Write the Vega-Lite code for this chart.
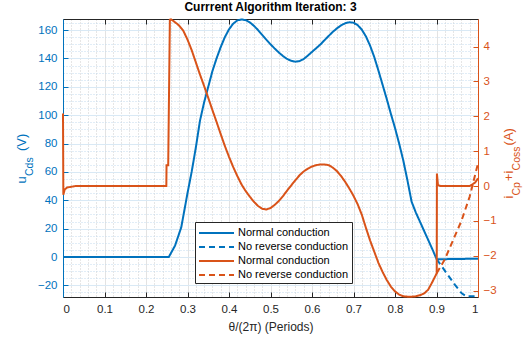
{
  "$schema": "https://vega.github.io/schema/vega-lite/v6.json",
  "width": 415,
  "height": 278,
  "autosize": {"type": "none"},
  "padding": {"left": 63, "top": 19, "right": 46, "bottom": 46},
  "config": {
    "font": "Liberation Sans",
    "view": {"stroke": null},
    "legend": {
      "orient": "none", "legendX": 132, "legendY": 203,
      "strokeColor": "#262626", "fillColor": "#ffffff", "padding": 3,
      "symbolType": "M-1,0H4", "symbolSize": 196, "symbolStrokeWidth": 2, "labelOffset": 24,
      "labelFontSize": 11, "labelColor": "#000000", "labelLimit": 300, "rowPadding": 1, "title": null
    }
  },
  "title": {"text": "Currrent Algorithm Iteration: 3", "fontSize": 12, "fontWeight": "bold", "color": "#000000", "offset": 1, "anchor": "middle"},
  "data": {"values": [
    {"s": "a", "x": 0, "v": 0}, {"s": "a", "x": 0.255, "v": 0}, {"s": "a", "x": 0.27, "v": 8}, {"s": "a", "x": 0.285, "v": 21},
    {"s": "a", "x": 0.3, "v": 45}, {"s": "a", "x": 0.31, "v": 60}, {"s": "a", "x": 0.32, "v": 77}, {"s": "a", "x": 0.33, "v": 96},
    {"s": "a", "x": 0.34, "v": 109}, {"s": "a", "x": 0.35, "v": 120}, {"s": "a", "x": 0.36, "v": 131}, {"s": "a", "x": 0.37, "v": 140},
    {"s": "a", "x": 0.38, "v": 148}, {"s": "a", "x": 0.39, "v": 155}, {"s": "a", "x": 0.4, "v": 160.5}, {"s": "a", "x": 0.41, "v": 164.5},
    {"s": "a", "x": 0.42, "v": 166.8}, {"s": "a", "x": 0.43, "v": 167.5}, {"s": "a", "x": 0.44, "v": 167}, {"s": "a", "x": 0.45, "v": 165.5},
    {"s": "a", "x": 0.46, "v": 163}, {"s": "a", "x": 0.47, "v": 160}, {"s": "a", "x": 0.48, "v": 156.6}, {"s": "a", "x": 0.49, "v": 153.2},
    {"s": "a", "x": 0.5, "v": 150}, {"s": "a", "x": 0.51, "v": 147}, {"s": "a", "x": 0.52, "v": 144.2}, {"s": "a", "x": 0.53, "v": 141.7},
    {"s": "a", "x": 0.54, "v": 139.6}, {"s": "a", "x": 0.55, "v": 138.3}, {"s": "a", "x": 0.56, "v": 137.7}, {"s": "a", "x": 0.57, "v": 138.1},
    {"s": "a", "x": 0.58, "v": 139.6}, {"s": "a", "x": 0.59, "v": 142}, {"s": "a", "x": 0.6, "v": 144.6}, {"s": "a", "x": 0.61, "v": 147.2},
    {"s": "a", "x": 0.62, "v": 149.8}, {"s": "a", "x": 0.63, "v": 152.8}, {"s": "a", "x": 0.64, "v": 155.8}, {"s": "a", "x": 0.65, "v": 158.7},
    {"s": "a", "x": 0.66, "v": 161.2}, {"s": "a", "x": 0.67, "v": 163.3}, {"s": "a", "x": 0.68, "v": 164.8}, {"s": "a", "x": 0.69, "v": 165.5},
    {"s": "a", "x": 0.7, "v": 165.2}, {"s": "a", "x": 0.71, "v": 163.5}, {"s": "a", "x": 0.72, "v": 160.3}, {"s": "a", "x": 0.73, "v": 155.5},
    {"s": "a", "x": 0.74, "v": 149}, {"s": "a", "x": 0.75, "v": 141}, {"s": "a", "x": 0.76, "v": 131.5}, {"s": "a", "x": 0.77, "v": 121.5},
    {"s": "a", "x": 0.78, "v": 111.5}, {"s": "a", "x": 0.79, "v": 101}, {"s": "a", "x": 0.8, "v": 91}, {"s": "a", "x": 0.81, "v": 80},
    {"s": "a", "x": 0.82, "v": 68}, {"s": "a", "x": 0.83, "v": 54}, {"s": "a", "x": 0.84, "v": 39}, {"s": "a", "x": 0.85, "v": 31.5},
    {"s": "a", "x": 0.86, "v": 25}, {"s": "a", "x": 0.87, "v": 18.5}, {"s": "a", "x": 0.88, "v": 12}, {"s": "a", "x": 0.89, "v": 5.5},
    {"s": "a", "x": 0.9005, "v": -1.6}, {"s": "a", "x": 0.95, "v": -1.4}, {"s": "a", "x": 1.0, "v": -1.2},
    {"s": "b", "x": 0.9005, "v": -1.6}, {"s": "b", "x": 0.9245, "v": -11.5}, {"s": "b", "x": 0.9446, "v": -19.7}, {"s": "b", "x": 0.9607, "v": -25.6},
    {"s": "b", "x": 0.972, "v": -27.7}, {"s": "b", "x": 1.0, "v": -27.7},
    {"s": "c", "x": 0, "v": 2.08}, {"s": "c", "x": 0.0008, "v": -0.25}, {"s": "c", "x": 0.004, "v": -0.1}, {"s": "c", "x": 0.01, "v": -0.04},
    {"s": "c", "x": 0.03, "v": 0}, {"s": "c", "x": 0.249, "v": 0}, {"s": "c", "x": 0.2495, "v": 0.6}, {"s": "c", "x": 0.2535, "v": 0.6},
    {"s": "c", "x": 0.2575, "v": 4.77}, {"s": "c", "x": 0.26, "v": 4.78}, {"s": "c", "x": 0.265, "v": 4.74}, {"s": "c", "x": 0.274, "v": 4.66},
    {"s": "c", "x": 0.28, "v": 4.6}, {"s": "c", "x": 0.29, "v": 4.45}, {"s": "c", "x": 0.3, "v": 4.2}, {"s": "c", "x": 0.31, "v": 3.9},
    {"s": "c", "x": 0.32, "v": 3.55}, {"s": "c", "x": 0.33, "v": 3.2}, {"s": "c", "x": 0.34, "v": 2.87}, {"s": "c", "x": 0.35, "v": 2.53},
    {"s": "c", "x": 0.36, "v": 2.18}, {"s": "c", "x": 0.37, "v": 1.84}, {"s": "c", "x": 0.38, "v": 1.49}, {"s": "c", "x": 0.39, "v": 1.15},
    {"s": "c", "x": 0.4, "v": 0.84}, {"s": "c", "x": 0.41, "v": 0.55}, {"s": "c", "x": 0.42, "v": 0.29}, {"s": "c", "x": 0.43, "v": 0.05},
    {"s": "c", "x": 0.44, "v": -0.14}, {"s": "c", "x": 0.45, "v": -0.3}, {"s": "c", "x": 0.46, "v": -0.45}, {"s": "c", "x": 0.47, "v": -0.57},
    {"s": "c", "x": 0.48, "v": -0.65}, {"s": "c", "x": 0.49, "v": -0.67}, {"s": "c", "x": 0.5, "v": -0.63}, {"s": "c", "x": 0.51, "v": -0.54},
    {"s": "c", "x": 0.52, "v": -0.43}, {"s": "c", "x": 0.53, "v": -0.29}, {"s": "c", "x": 0.54, "v": -0.13}, {"s": "c", "x": 0.55, "v": 0.02},
    {"s": "c", "x": 0.56, "v": 0.17}, {"s": "c", "x": 0.57, "v": 0.31}, {"s": "c", "x": 0.58, "v": 0.42}, {"s": "c", "x": 0.59, "v": 0.5},
    {"s": "c", "x": 0.6, "v": 0.56}, {"s": "c", "x": 0.61, "v": 0.6}, {"s": "c", "x": 0.62, "v": 0.62}, {"s": "c", "x": 0.63, "v": 0.62},
    {"s": "c", "x": 0.64, "v": 0.6}, {"s": "c", "x": 0.65, "v": 0.53}, {"s": "c", "x": 0.66, "v": 0.43}, {"s": "c", "x": 0.67, "v": 0.29},
    {"s": "c", "x": 0.68, "v": 0.12}, {"s": "c", "x": 0.69, "v": -0.07}, {"s": "c", "x": 0.7, "v": -0.28}, {"s": "c", "x": 0.71, "v": -0.52},
    {"s": "c", "x": 0.72, "v": -0.82}, {"s": "c", "x": 0.73, "v": -1.2}, {"s": "c", "x": 0.74, "v": -1.56}, {"s": "c", "x": 0.75, "v": -1.88},
    {"s": "c", "x": 0.76, "v": -2.2}, {"s": "c", "x": 0.77, "v": -2.46}, {"s": "c", "x": 0.78, "v": -2.69}, {"s": "c", "x": 0.79, "v": -2.88},
    {"s": "c", "x": 0.8, "v": -3.02}, {"s": "c", "x": 0.81, "v": -3.11}, {"s": "c", "x": 0.82, "v": -3.16}, {"s": "c", "x": 0.83, "v": -3.17},
    {"s": "c", "x": 0.84, "v": -3.17}, {"s": "c", "x": 0.85, "v": -3.16}, {"s": "c", "x": 0.86, "v": -3.13}, {"s": "c", "x": 0.87, "v": -3.08},
    {"s": "c", "x": 0.88, "v": -2.97}, {"s": "c", "x": 0.89, "v": -2.75}, {"s": "c", "x": 0.9005, "v": -2.5}, {"s": "c", "x": 0.901, "v": 0.36},
    {"s": "c", "x": 0.9035, "v": 0.03}, {"s": "c", "x": 0.91, "v": 0}, {"s": "c", "x": 0.98, "v": 0}, {"s": "c", "x": 0.993, "v": 0.1},
    {"s": "c", "x": 1.0, "v": 0.22},
    {"s": "d", "x": 0.9005, "v": -2.5}, {"s": "d", "x": 0.92, "v": -2.1}, {"s": "d", "x": 0.94, "v": -1.55}, {"s": "d", "x": 0.96, "v": -1.0},
    {"s": "d", "x": 0.98, "v": -0.3}, {"s": "d", "x": 1.0, "v": 0.65}
  ]},
  "layer": [
    {
      "transform": [{"filter": "datum.s == 'a'"}],
      "mark": {"type": "line", "opacity": 0},
      "encoding": {
        "x": {"field": "x", "type": "quantitative", "scale": {"domain": [0, 1], "nice": false, "zero": false},
          "axis": {"orient": "bottom", "values": [0.02,0.04,0.06,0.08,0.12,0.14,0.16,0.18,0.22,0.24,0.26,0.28,0.32,0.34,0.36,0.38,0.42,0.44,0.46,0.48,0.52,0.54,0.56,0.58,0.62,0.64,0.66,0.68,0.72,0.74,0.76,0.78,0.82,0.84,0.86,0.88,0.92,0.94,0.96,0.98],
            "grid": true, "gridDash": [1, 2], "gridColor": "#cccccc", "gridWidth": 1, "domain": false, "ticks": false, "labels": false, "title": null}},
        "y": {"field": "v", "type": "quantitative", "scale": {"domain": [-28.2, 167.8], "nice": false, "zero": false},
          "axis": {"orient": "left", "values": [-25,-15,-10,-5,5,10,15,25,30,35,45,50,55,65,70,75,85,90,95,105,110,115,125,130,135,145,150,155,165],
            "grid": true, "gridDash": [1, 2], "gridColor": "#c2dbee", "gridWidth": 1, "domain": false, "ticks": false, "labels": false,
            "title": "Cds", "titleFontSize": 10.5, "titleFontWeight": "normal", "titleColor": "#0072BD", "titleAngle": -90, "titleAlign": "left", "titleBaseline": "alphabetic", "titleX": -31, "titleY": 156.5}}
      }
    },
    {
      "transform": [{"filter": "datum.s == 'c'"}],
      "mark": {"type": "line", "opacity": 0},
      "encoding": {
        "x": {"field": "x", "type": "quantitative",
          "axis": {"orient": "top", "values": [0,0.1,0.2,0.3,0.4,0.5,0.6,0.7,0.8,0.9,1], "grid": false, "domain": true, "domainColor": "#262626", "ticks": true, "tickSize": -5, "tickColor": "#262626", "labels": false, "title": null}},
        "y": {"field": "v", "type": "quantitative", "scale": {"domain": [-3.18, 4.79], "nice": false, "zero": false},
          "axis": {"orient": "right", "grid": false, "domain": false, "ticks": false, "labels": false,
            "title": "Cp\u00a0\u00a0\u00a0\u00a0Coss", "titleFontSize": 10.5, "titleFontWeight": "normal", "titleColor": "#D95319", "titleAngle": -90, "titleAlign": "left", "titleBaseline": "alphabetic", "titleX": 41, "titleY": 176}}
      }
    },
    {
      "transform": [{"filter": "datum.s == 'a' || datum.s == 'b'"}],
      "mark": {"type": "line", "strokeWidth": 2},
      "encoding": {
        "x": {"field": "x", "type": "quantitative",
          "axis": {"orient": "bottom", "values": [0,0.1,0.2,0.3,0.4,0.5,0.6,0.7,0.8,0.9,1], "format": "~g", "grid": true, "gridColor": "#e3e3e3", "gridWidth": 1,
            "domain": true, "domainColor": "#262626", "ticks": true, "tickSize": -5, "tickColor": "#262626",
            "labelFontSize": 11.5, "labelColor": "#262626", "labelPadding": 11,
            "title": "θ/(2π) (Periods)", "titleFontSize": 12, "titleFontWeight": "normal", "titleColor": "#262626", "titlePadding": 7}},
        "y": {"field": "v", "type": "quantitative", "scale": {"domain": [-28.2, 167.8], "nice": false, "zero": false},
          "axis": {"orient": "left", "values": [-20,0,20,40,60,80,100,120,140,160], "grid": true, "gridColor": "#d9e9f5", "gridWidth": 1,
            "domain": true, "domainColor": "#0072BD", "ticks": true, "tickSize": -5, "tickColor": "#0072BD",
            "labelFontSize": 11.5, "labelColor": "#0072BD", "labelPadding": 11,
            "title": "u\u00a0\u00a0\u00a0\u00a0\u00a0\u00a0\u00a0(V)", "titleFontSize": 13, "titleFontWeight": "normal", "titleColor": "#0072BD", "titleAngle": -90, "titleAlign": "left", "titleBaseline": "alphabetic", "titleX": -38, "titleY": 164}},
        "color": {"field": "s", "type": "nominal", "scale": {"domain": ["a", "b", "c", "d"], "range": ["#0072BD", "#0072BD", "#D95319", "#D95319"]},
          "legend": {"labelExpr": "datum.label == 'a' || datum.label == 'c' ? 'Normal conduction' : 'No reverse conduction'"}},
        "strokeDash": {"field": "s", "type": "nominal", "scale": {"domain": ["a", "b", "c", "d"], "range": [[1, 0], [6, 4], [1, 0], [6, 4]]},
          "legend": {"labelExpr": "datum.label == 'a' || datum.label == 'c' ? 'Normal conduction' : 'No reverse conduction'"}}
      }
    },
    {
      "transform": [{"filter": "datum.s == 'c' || datum.s == 'd'"}],
      "mark": {"type": "line", "strokeWidth": 2},
      "encoding": {
        "x": {"field": "x", "type": "quantitative", "axis": null},
        "y": {"field": "v", "type": "quantitative", "scale": {"domain": [-3.18, 4.79], "nice": false, "zero": false},
          "axis": {"orient": "right", "values": [-3,-2,-1,0,1,2,3,4], "grid": false,
            "domain": true, "domainColor": "#D95319", "ticks": true, "tickSize": -5, "tickColor": "#D95319",
            "labelFontSize": 11.5, "labelColor": "#D95319", "labelPadding": 10,
            "title": "i\u00a0\u00a0\u00a0\u00a0+i\u00a0\u00a0\u00a0\u00a0\u00a0\u00a0\u00a0(A)", "titleFontSize": 13, "titleFontWeight": "normal", "titleColor": "#D95319", "titleAngle": -90, "titleAlign": "left", "titleBaseline": "alphabetic", "titleX": 34, "titleY": 179}},
        "color": {"field": "s", "type": "nominal",
          "legend": {"labelExpr": "datum.label == 'a' || datum.label == 'c' ? 'Normal conduction' : 'No reverse conduction'"}},
        "strokeDash": {"field": "s", "type": "nominal",
          "legend": {"labelExpr": "datum.label == 'a' || datum.label == 'c' ? 'Normal conduction' : 'No reverse conduction'"}}
      }
    }
  ],
  "resolve": {"scale": {"y": "independent"}, "axis": {"x": "independent", "y": "independent"}}
}
